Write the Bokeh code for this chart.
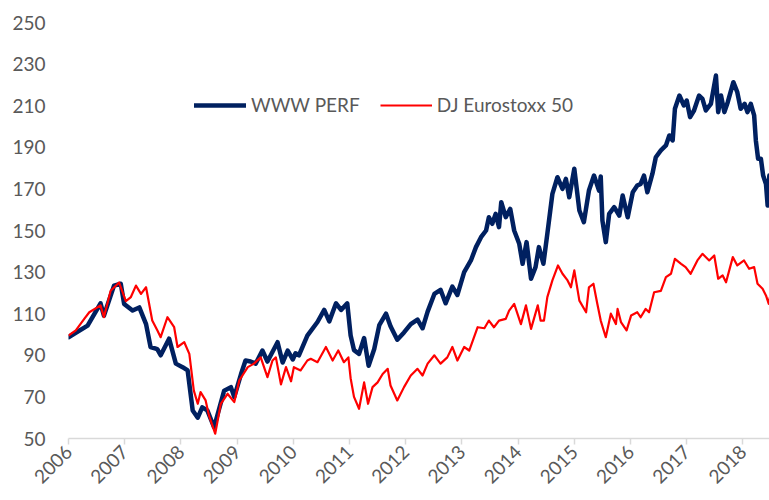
from math import pi
from bokeh.plotting import figure
from bokeh.models import Range1d, FixedTicker, Legend, LegendItem
from bokeh.embed import file_html
from bokeh.resources import INLINE

# ---- data (decimal years, index values) ----
www_x = [2006.00, 2006.34, 2006.57, 2006.63, 2006.81, 2006.93, 2006.99, 2007.14, 2007.26, 2007.38,
         2007.46, 2007.58, 2007.64, 2007.79, 2007.91, 2008.03, 2008.12, 2008.21, 2008.30, 2008.38,
         2008.47, 2008.59, 2008.77, 2008.89, 2008.95, 2009.07, 2009.15, 2009.24, 2009.33, 2009.45,
         2009.54, 2009.72, 2009.81, 2009.90, 2009.99, 2010.04, 2010.10, 2010.25, 2010.43, 2010.55,
         2010.64, 2010.76, 2010.85, 2010.96, 2011.02, 2011.08, 2011.17, 2011.26, 2011.34, 2011.44,
         2011.53, 2011.65, 2011.73, 2011.85, 2011.97, 2012.09, 2012.21, 2012.30, 2012.39, 2012.51,
         2012.62, 2012.71, 2012.83, 2012.92, 2013.04, 2013.16, 2013.25, 2013.34, 2013.43, 2013.48,
         2013.54, 2013.60, 2013.66, 2013.70, 2013.78, 2013.86, 2013.93, 2014.02, 2014.08, 2014.15,
         2014.23, 2014.31, 2014.37, 2014.45, 2014.52, 2014.61, 2014.70, 2014.79, 2014.85, 2014.91,
         2015.00, 2015.09, 2015.17, 2015.26, 2015.35, 2015.44, 2015.47, 2015.50, 2015.56, 2015.62,
         2015.71, 2015.80, 2015.86, 2015.95, 2016.04, 2016.12, 2016.18, 2016.24, 2016.30, 2016.39,
         2016.45, 2016.54, 2016.63, 2016.69, 2016.75, 2016.79, 2016.87, 2016.95, 2017.00, 2017.06,
         2017.13, 2017.22, 2017.28, 2017.34, 2017.43, 2017.52, 2017.56, 2017.61, 2017.67, 2017.73,
         2017.83, 2017.90, 2017.96, 2018.03, 2018.08, 2018.14, 2018.20, 2018.23, 2018.27, 2018.32,
         2018.36, 2018.41, 2018.44, 2018.47]
www_perf = [98.7, 104.3, 115.0, 109.0, 123.5, 124.4, 114.7, 111.5, 113.0, 105.0,
            94.0, 93.0, 90.0, 98.0, 86.0, 84.3, 82.7, 63.5, 60.0, 65.0,
            63.5, 55.4, 73.0, 74.7, 70.0, 81.0, 87.5, 87.0, 86.0, 92.3,
            87.0, 96.3, 86.5, 92.3, 88.0, 91.0, 90.0, 99.5, 106.0, 111.8,
            106.3, 115.0, 111.8, 115.0, 99.5, 92.5, 90.7, 98.3, 85.0, 93.0,
            104.5, 110.0, 104.0, 97.5, 101.0, 105.0, 107.2, 103.0, 111.0, 119.5,
            121.5, 115.0, 123.0, 119.0, 130.0, 135.6, 142.0, 146.8, 150.0, 156.4,
            153.2, 158.0, 151.6, 163.6, 156.4, 160.4, 150.0, 143.6, 134.0, 144.4,
            126.8, 132.4, 142.0, 134.0, 148.4, 167.6, 175.6, 170.0, 174.8, 166.0,
            179.7, 159.6, 154.0, 169.2, 176.4, 169.2, 176.0, 154.8, 144.4, 158.0,
            161.2, 157.2, 166.8, 156.4, 168.4, 171.6, 172.4, 176.4, 168.4, 177.3,
            185.2, 188.5, 190.9, 195.7, 193.3, 208.5, 214.9, 210.1, 212.5, 204.5,
            207.7, 214.9, 213.3, 207.7, 210.9, 224.5, 206.9, 214.9, 206.9, 211.7,
            221.3, 216.5, 208.5, 210.9, 206.9, 210.9, 205.3, 193.3, 184.5, 184.5,
            176.4, 172.4, 162.0, 176.4]

dj_x = [2006.00, 2006.13, 2006.28, 2006.37, 2006.57, 2006.63, 2006.75, 2006.90, 2007.02, 2007.11,
        2007.20, 2007.29, 2007.38, 2007.49, 2007.58, 2007.64, 2007.76, 2007.88, 2007.94, 2008.06,
        2008.15, 2008.23, 2008.30, 2008.35, 2008.44, 2008.50, 2008.61, 2008.71, 2008.83, 2008.95,
        2009.04, 2009.19, 2009.30, 2009.42, 2009.54, 2009.63, 2009.69, 2009.78, 2009.87, 2009.96,
        2010.01, 2010.13, 2010.25, 2010.31, 2010.43, 2010.58, 2010.70, 2010.80, 2010.90, 2010.98,
        2011.02, 2011.08, 2011.17, 2011.26, 2011.33, 2011.41, 2011.50, 2011.59, 2011.68, 2011.73,
        2011.85, 2011.97, 2012.09, 2012.21, 2012.30, 2012.39, 2012.51, 2012.62, 2012.74, 2012.83,
        2012.92, 2013.04, 2013.13, 2013.28, 2013.40, 2013.48, 2013.57, 2013.66, 2013.78, 2013.84,
        2013.93, 2014.05, 2014.14, 2014.23, 2014.35, 2014.40, 2014.46, 2014.52, 2014.61, 2014.71,
        2014.79, 2014.88, 2014.94, 2015.00, 2015.09, 2015.21, 2015.26, 2015.34, 2015.41, 2015.47,
        2015.56, 2015.65, 2015.74, 2015.77, 2015.83, 2015.93, 2016.01, 2016.12, 2016.18, 2016.27,
        2016.33, 2016.42, 2016.54, 2016.63, 2016.72, 2016.79, 2016.90, 2016.98, 2017.07, 2017.19,
        2017.28, 2017.40, 2017.49, 2017.56, 2017.64, 2017.70, 2017.82, 2017.90, 2018.02, 2018.11,
        2018.20, 2018.26, 2018.35, 2018.41, 2018.46, 2018.48]
dj_eurostoxx = [99.5, 102.0, 107.5, 110.7, 114.0, 108.3, 121.0, 125.0, 116.0, 118.0,
                123.5, 119.5, 122.7, 106.7, 102.0, 98.7, 108.3, 103.5, 94.0, 96.3,
                90.7, 73.0, 66.7, 72.3, 68.3, 61.0, 52.3, 66.7, 71.5, 67.5,
                78.0, 84.3, 86.0, 89.0, 79.5, 87.5, 89.0, 76.0, 84.3, 77.5,
                84.3, 82.7, 87.5, 88.3, 86.7, 94.0, 87.5, 92.3, 86.7, 89.0,
                79.0, 70.0, 64.3, 77.0, 66.7, 74.7, 77.0, 81.0, 83.5, 75.5,
                68.3, 74.7, 80.3, 83.5, 80.3, 86.0, 90.0, 86.0, 89.0, 94.0,
                87.5, 94.0, 92.3, 103.5, 103.0, 106.7, 103.5, 106.7, 107.5, 111.5,
                114.7, 105.0, 114.0, 102.7, 114.0, 106.7, 106.7, 118.0, 126.0, 133.2,
                129.2, 126.0, 122.7, 130.8, 116.3, 110.7, 122.7, 124.4, 114.7, 106.7,
                98.7, 110.0, 105.0, 112.3, 106.0, 102.0, 109.1, 110.7, 108.3, 112.3,
                110.7, 120.3, 121.0, 127.6, 129.2, 136.4, 134.0, 132.4, 129.2, 135.6,
                138.8, 135.6, 138.0, 126.8, 128.4, 125.1, 137.2, 133.2, 135.6, 131.6,
                132.4, 124.4, 122.0, 118.8, 114.7, 118.0]

years = list(range(2006, 2019))
year_labels = [str(y) for y in years]
y_ticks = list(range(50, 251, 20))

NAVY = "#002060"
RED = "#FF0000"
GREY_TXT = "#595959"
FONT = "Lato"

p = figure(width=769, height=500, output_backend="svg", toolbar_location=None,
           x_range=Range1d(2006, 2018.473), y_range=Range1d(50, 250),
           min_border_left=68, min_border_right=0, min_border_top=22, min_border_bottom=62)
p.outline_line_color = None
p.xgrid.visible = False
p.ygrid.visible = False
p.background_fill_color = "white"
p.border_fill_color = "white"

r1 = p.line(www_x, www_perf, line_color=NAVY, line_width=4.5, line_join="round", line_cap="round")
r2 = p.line(dj_x, dj_eurostoxx, line_color=RED, line_width=2.2, line_join="round")

# y axis
p.yaxis.ticker = FixedTicker(ticks=y_ticks)
p.yaxis.axis_line_color = None
p.yaxis.major_tick_line_color = None
p.yaxis.minor_tick_line_color = None
p.yaxis.major_label_standoff = 17
p.yaxis.major_label_text_font = FONT
p.yaxis.major_label_text_font_size = "19px"
p.yaxis.major_label_text_color = GREY_TXT

# x axis
p.xaxis.ticker = FixedTicker(ticks=years)
p.xaxis.major_label_overrides = {y: lab for y, lab in zip(years, year_labels)}
p.xaxis.axis_line_color = "#D9D9D9"
p.xaxis.axis_line_width = 1.5
p.xaxis.major_tick_line_color = "#D9D9D9"
p.xaxis.major_tick_line_width = 1.5
p.xaxis.major_tick_in = 0
p.xaxis.major_tick_out = 6
p.xaxis.minor_tick_line_color = None
p.xaxis.major_label_orientation = pi / 4
p.xaxis.major_label_standoff = 4
p.xaxis.major_label_text_font = FONT
p.xaxis.major_label_text_font_size = "19px"
p.xaxis.major_label_text_color = GREY_TXT

legend = Legend(items=[LegendItem(label="WWW PERF", renderers=[r1]),
                       LegendItem(label="DJ Eurostoxx 50", renderers=[r2])],
                orientation="horizontal", location=(126, 322),
                border_line_color=None, background_fill_alpha=0,
                padding=0, margin=0, spacing=20, glyph_width=52, glyph_height=20,
                label_height=20, label_standoff=5,
                label_text_font=FONT, label_text_font_size="19px", label_text_color=GREY_TXT)
p.add_layout(legend)

open("out.html", "w").write(file_html(p, INLINE))
